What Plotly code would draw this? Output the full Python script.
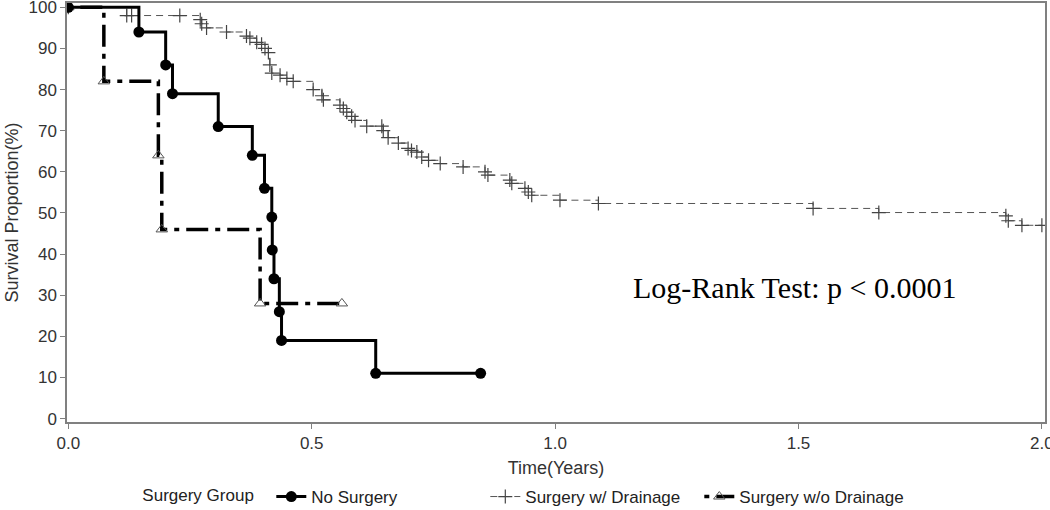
import plotly.graph_objects as go

# ---- data ----
no_surg_time = [0, 0.145, 0.200, 0.214, 0.308, 0.378, 0.403, 0.418, 0.419, 0.4225, 0.4335, 0.438, 0.6315, 0.847]
no_surg_surv = [100, 94, 86, 79, 71, 64, 56, 49, 41, 34, 26, 19, 11, 11]

drain_time = [0, 0.120, 0.130, 0.229, 0.271, 0.274, 0.284, 0.325, 0.366, 0.373, 0.387, 0.397,
              0.404, 0.411, 0.414, 0.418, 0.435, 0.449, 0.462, 0.503, 0.521, 0.524, 0.558,
              0.565, 0.572, 0.582, 0.589, 0.613, 0.644, 0.647, 0.657, 0.678, 0.698, 0.705,
              0.716, 0.726, 0.740, 0.764, 0.811, 0.856, 0.862, 0.907, 0.911, 0.938, 0.945,
              0.952, 1.010, 1.089, 1.530, 1.665, 1.926, 1.931, 1.959, 2.0]
drain_surv = [100, 98, 98, 98, 97, 96, 95, 94, 93, 92.5, 91.5, 91,
              90, 89, 86, 84, 83.5, 82.7, 82, 80, 78.5, 77.5, 76.2,
              75.4, 74.5, 73.5, 72.5, 71.1, 71.1, 70, 68.3, 67, 65.7, 65.2,
              64.8, 63.6, 62.8, 62, 61.2, 60, 59.2, 58, 57.2, 56, 55.1,
              54.3, 53.1, 52.3, 51.1, 50.1, 49.3, 48.1, 47, 47]

nodrain_time = [0, 0.073, 0.185, 0.192, 0.394, 0.562]
nodrain_surv = [100, 82, 64, 46, 28, 28]

x_ticks = [0, 0.5, 1.0, 1.5, 2.0]
y_ticks = list(range(0, 101, 10))

FONT = "Liberation Sans, Arial, sans-serif"

fig = go.Figure()

fig.add_trace(go.Scatter(
    x=drain_time, y=drain_surv, name="Surgery w/ Drainage", mode="lines+markers",
    line=dict(shape="hv", color="#555555", width=1, dash="7px,5px"),
    marker=dict(symbol="cross-thin", size=10, line=dict(color="#444444", width=1.2)),
    legendrank=2,
))
fig.add_trace(go.Scatter(
    x=nodrain_time, y=nodrain_surv, name="Surgery w/o Drainage", mode="lines+markers",
    line=dict(shape="hv", color="black", width=3.5, dash="5px,7px,22px,7px"),
    marker=dict(symbol="triangle-up-open", size=10, color="#555555", line=dict(width=1)),
    legendrank=3,
))
fig.add_trace(go.Scatter(
    x=no_surg_time, y=no_surg_surv, name="No Surgery", mode="lines+markers",
    line=dict(shape="hv", color="black", width=3),
    marker=dict(symbol="circle", size=11, color="black"),
    legendrank=1,
))

fig.add_annotation(
    x=1.156, y=31.9, xref="x", yref="y", xanchor="left", yanchor="middle",
    text="Log-Rank Test: p < 0.0001", showarrow=False,
    font=dict(family="Liberation Serif, Times New Roman, serif", size=30, color="black"),
)

axis_common = dict(
    showline=True, linecolor="#808080", linewidth=1.5, mirror=True,
    ticks="outside", ticklen=5, tickcolor="#808080", tickwidth=1,
    showgrid=False, zeroline=False, ticklabeloverflow="allow",
    tickfont=dict(family=FONT, size=17, color="#333333"),
)

fig.update_xaxes(
    range=[-0.0027, 2.0064], tickvals=x_ticks, tickformat=".1f",
    title=dict(text="Time(Years)", font=dict(family=FONT, size=18, color="#333333"), standoff=9),
    **axis_common,
)
fig.update_yaxes(
    range=[-0.83, 101.05], tickvals=y_ticks,
    title=dict(text="Survival Proportion(%)", font=dict(family=FONT, size=18, color="#333333"), standoff=5),
    **axis_common,
)

fig.update_layout(
    width=1050, height=510,
    margin=dict(l=67, r=5, t=3, b=88, autoexpand=False),
    paper_bgcolor="white", plot_bgcolor="white",
    showlegend=True,
    legend=dict(
        orientation="h", x=0.075, xanchor="left", y=-0.136, yanchor="top",
        title=dict(text="Surgery Group  ", font=dict(family=FONT, size=17, color="#222222")),
        font=dict(family=FONT, size=17, color="#222222"),
        entrywidth=169, itemwidth=30, traceorder="normal",
        bgcolor="rgba(0,0,0,0)",
    ),
)

fig.write_html("out.html", config={"displayModeBar": False},
               post_script="document.body.style.margin='0';document.body.style.overflow='hidden';")
